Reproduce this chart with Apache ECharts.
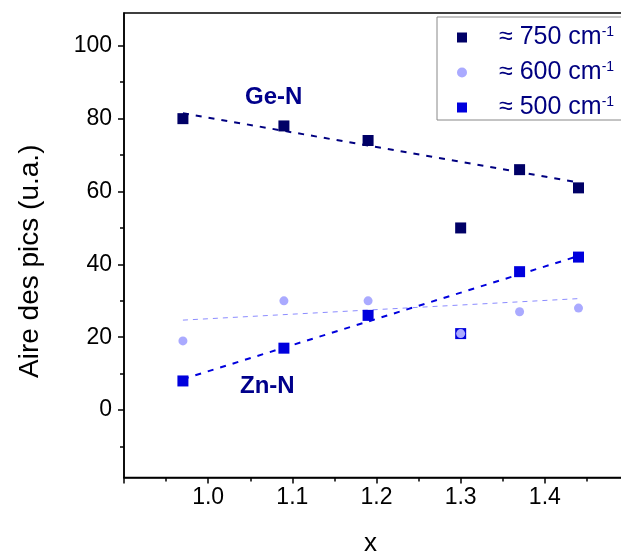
<!DOCTYPE html>
<html>
<head>
<meta charset="utf-8">
<script src="https://cdn.jsdelivr.net/npm/echarts@6/dist/echarts.min.js"></script>
<style>html,body{margin:0;padding:0;background:#fff;}#c{width:621px;height:551px;}</style>
</head>
<body>
<div id="c"></div>
<script>
// x values (composition)
var xValues = [0.97, 1.09, 1.19, 1.30, 1.37, 1.44];
// peak areas (u.a.)
var area750 = [80, 78, 74, 50, 66, 61];
var area600 = [19, 30, 30, 21, 27, 28];
var area500 = [8, 17, 26, 21, 38, 42];
// linear trend line endpoints
var trend750 = [[0.97, 81.5], [1.44, 62.5]];
var trend600 = [[0.97, 24.7], [1.44, 30.6]];
var trend500 = [[0.97, 8.5], [1.44, 42.3]];
var seriesNames = ['750', '600', '500'];
var xTicks = [1.0, 1.1, 1.2, 1.3, 1.4];
var yTicks = [0, 20, 40, 60, 80, 100];
var yMinorTicks = [-10, 10, 30, 50, 70, 90];

function pairs(xs, ys) { return xs.map(function (x, i) { return [x, ys[i]]; }); }

var FONT = 'Liberation Sans, Arial, sans-serif';
var squarePath = 'path://M0,0L10,0L10,10L0,10Z';
var Y_MIN = -18.5, Y_MAX = 109;

var chart = echarts.init(document.getElementById('c'), null, {renderer: 'canvas'});
chart.setOption({
  animation: false,
  backgroundColor: '#fff',
  grid: {left: 124, top: 13, width: 505, height: 464.5, outerBoundsMode: 'none', containLabel: false,
    show: true, borderColor: '#000', borderWidth: 1.5, backgroundColor: 'transparent'},
  xAxis: {
    type: 'value', min: 0.9, max: 1.5, interval: 0.1,
    name: 'x', nameLocation: 'middle', nameGap: 53,
    nameTextStyle: {fontFamily: FONT, fontSize: 26, color: '#000', padding: [0, 12, 0, 0]},
    axisLine: {show: true, onZero: false, lineStyle: {color: '#000', width: 1.5}},
    axisTick: {show: true, inside: false, length: 6, lineStyle: {color: '#000', width: 1.5}},
    minorTick: {show: true, splitNumber: 2, length: 4, lineStyle: {color: '#000', width: 1.5}},
    splitLine: {show: false},
    axisLabel: {showMinLabel: false, showMaxLabel: false, margin: 9, fontFamily: FONT, fontSize: 23, color: '#000',
      formatter: function (v) { var r = Math.round(v * 10) / 10; return xTicks.indexOf(r) >= 0 ? r.toFixed(1) : ''; }}
  },
  yAxis: [{
    type: 'value', min: Y_MIN, max: Y_MAX, position: 'left',
    name: 'Aire des pics (u.a.)', nameLocation: 'middle', nameGap: 80, nameRotate: 90,
    nameTextStyle: {fontFamily: FONT, fontSize: 28, color: '#000', padding: [0, 32, 0, 0]},
    axisLine: {show: true, onZero: false, lineStyle: {color: '#000', width: 1.5}},
    axisTick: {show: true, inside: false, length: 6, customValues: yTicks, lineStyle: {color: '#000', width: 1.5}},
    splitLine: {show: false},
    axisLabel: {margin: 12, customValues: yTicks, fontFamily: FONT, fontSize: 23, color: '#000'}
  }, {
    type: 'value', min: Y_MIN, max: Y_MAX, position: 'left', gridIndex: 0,
    axisLine: {show: false, onZero: false},
    axisTick: {show: true, inside: false, length: 4, customValues: yMinorTicks, lineStyle: {color: '#000', width: 1.5}},
    axisLabel: {show: false},
    splitLine: {show: false}
  }],
  legend: {
    data: [
      {name: seriesNames[0], icon: squarePath},
      {name: seriesNames[1], icon: 'circle'},
      {name: seriesNames[2], icon: squarePath}
    ],
    orient: 'vertical', left: 437, top: 17,
    padding: [8, 30, 0, 20], itemGap: 10, itemWidth: 10, itemHeight: 10,
    borderColor: '#888', borderWidth: 1, backgroundColor: '#fff',
    selectedMode: false,
    formatter: function (n) { return '{sp| }{m|\u2248 ' + n + ' cm}{sup|-1}'; },
    textStyle: {
      fontFamily: FONT, color: '#000080', lineHeight: 24,
      rich: {
        sp: {width: 27, fontSize: 10},
        m: {fontSize: 25, fontFamily: FONT, color: '#000080', lineHeight: 24},
        sup: {fontSize: 14, fontFamily: FONT, color: '#000080', lineHeight: 24, verticalAlign: 'top', padding: [0, 0, 10, 0]}
      }
    }
  },
  graphic: [
    {type: 'text', left: 245, top: 85, style: {text: 'Ge-N', font: 'bold 24px ' + FONT, fill: '#00008b'}},
    {type: 'text', left: 240, top: 374, style: {text: 'Zn-N', font: 'bold 24px ' + FONT, fill: '#00008b'}}
  ],
  series: [
    {name: 'trend750', type: 'line', data: trend750, symbol: 'none', lineStyle: {color: '#000080', width: 2, type: [6, 7]}, z: 1, silent: true},
    {name: 'trend600', type: 'line', data: trend600, symbol: 'none', lineStyle: {color: '#8c8cff', width: 1, type: [5, 5]}, z: 1, silent: true},
    {name: 'trend500', type: 'line', data: trend500, symbol: 'none', lineStyle: {color: '#0000dd', width: 2, type: [6, 7]}, z: 1, silent: true},
    {name: seriesNames[0], type: 'scatter', data: pairs(xValues, area750), symbol: 'rect', symbolSize: 11, itemStyle: {color: '#000066', opacity: 1}, z: 3},
    {name: seriesNames[2], type: 'scatter', data: pairs(xValues, area500), symbol: 'rect', symbolSize: 11, itemStyle: {color: '#0000dd', opacity: 1}, z: 3},
    {name: seriesNames[1], type: 'scatter', data: pairs(xValues, area600), symbol: 'circle', symbolSize: 9, itemStyle: {color: '#aaaaff', opacity: 1}, z: 4}
  ]
});
</script>
</body>
</html>
